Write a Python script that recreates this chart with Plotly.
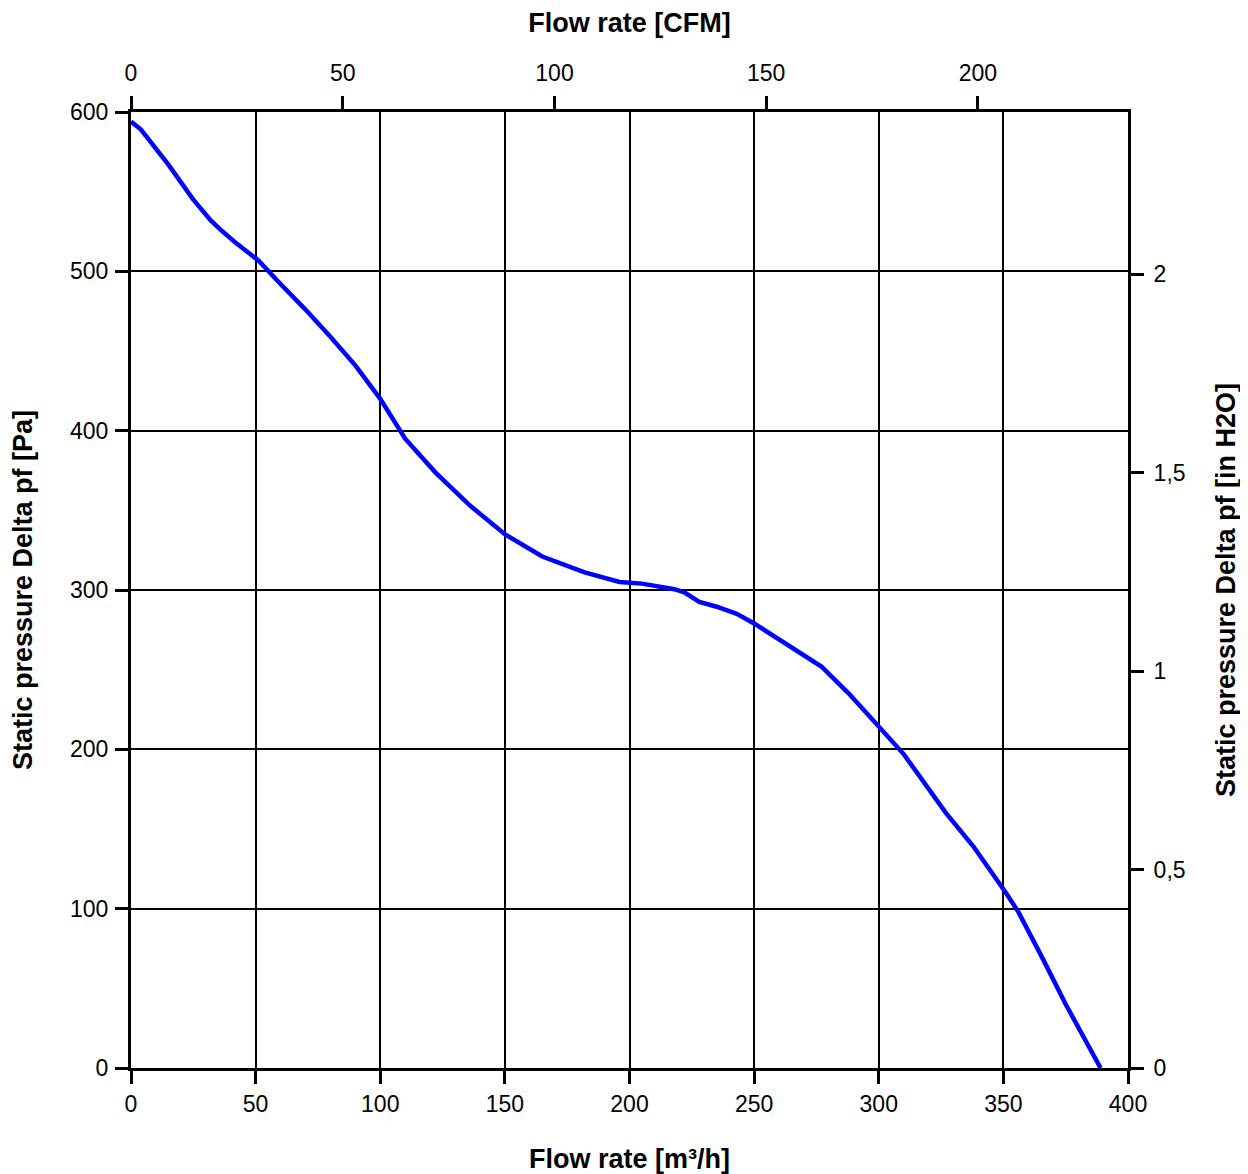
import plotly.graph_objects as go

# Curve data: flow rate [m³/h] vs static pressure [Pa]
flow_m3h = [0, 4, 15, 25, 32, 36, 42, 51, 60, 70, 80, 90, 100, 110, 122, 136, 150,
            165, 182, 196, 205, 212, 218, 222, 228, 235, 243, 250, 263, 277, 288,
            300, 310, 327, 338, 351, 356, 366, 375, 389]
pressure_pa = [594, 589, 567, 545, 532, 526, 518, 507, 492, 476, 459, 441, 420, 395,
               374, 353, 335, 321, 311, 305, 304, 302.5, 300.5, 298.5, 292.5, 289.5,
               285, 279, 266, 252, 235, 214, 197, 160, 139, 110, 98, 68, 40, 0]

# Unit conversions
M3H_PER_CFM = 1.699011
PA_PER_INH2O = 249.089

x_range = [0, 400]
y_range = [0, 600]
x_ticks = [0, 50, 100, 150, 200, 250, 300, 350, 400]
y_ticks = [0, 100, 200, 300, 400, 500, 600]
cfm_ticks = [0, 50, 100, 150, 200]
inh2o_ticks = [0, 0.5, 1, 1.5, 2]
inh2o_labels = ["0", "0,5", "1", "1,5", "2"]

FONT = "Liberation Sans, Arial, sans-serif"

fig = go.Figure()
fig.add_trace(go.Scatter(
    x=flow_m3h, y=pressure_pa, mode="lines",
    line=dict(color="#0000ff", width=4.5), showlegend=False,
    xaxis="x", yaxis="y",
))
# invisible trace to activate secondary axes
fig.add_trace(go.Scatter(
    x=[v / M3H_PER_CFM for v in flow_m3h],
    y=[v / PA_PER_INH2O for v in pressure_pa],
    mode="lines", line=dict(color="rgba(0,0,0,0)", width=0),
    showlegend=False, hoverinfo="skip", xaxis="x2", yaxis="y2",
))

tickfont = dict(family=FONT, size=23, color="black")
titlefont = dict(family=FONT, size=27, color="black", weight="bold")

common = dict(ticks="outside", ticklen=13, tickwidth=3, tickcolor="black",
              showline=True, linecolor="black", linewidth=3, zeroline=False,
              tickfont=tickfont)

fig.update_layout(
    width=1248, height=1174,
    margin=dict(l=123, r=128, t=99, b=114),
    paper_bgcolor="white", plot_bgcolor="white",
    font=dict(family=FONT, size=23, color="black"),
    xaxis=dict(
        range=x_range, tickvals=x_ticks,
        showgrid=True, gridcolor="black", gridwidth=2,
        title=dict(text="Flow rate [m³/h]", font=titlefont, standoff=34),
        **common,
    ),
    xaxis2=dict(
        range=[x_range[0] / M3H_PER_CFM, x_range[1] / M3H_PER_CFM],
        overlaying="x", side="top", tickvals=cfm_ticks, showgrid=False,
        ticklabelstandoff=6,
        title=dict(text="Flow rate [CFM]", font=titlefont, standoff=21),
        **common,
    ),
    yaxis=dict(
        range=y_range, tickvals=y_ticks,
        showgrid=True, gridcolor="black", gridwidth=2, ticklabelstandoff=2,
        title=dict(text="Static pressure Delta pf [Pa]", font=titlefont, standoff=30),
        **common,
    ),
    yaxis2=dict(
        range=[y_range[0] / PA_PER_INH2O, y_range[1] / PA_PER_INH2O],
        overlaying="y", side="right", tickvals=inh2o_ticks, ticktext=inh2o_labels,
        showgrid=False, ticklabelstandoff=5,
        title=dict(text="Static pressure Delta pf [in H2O]", font=titlefont, standoff=32),
        **common,
    ),
)

fig.write_html("out.html")
